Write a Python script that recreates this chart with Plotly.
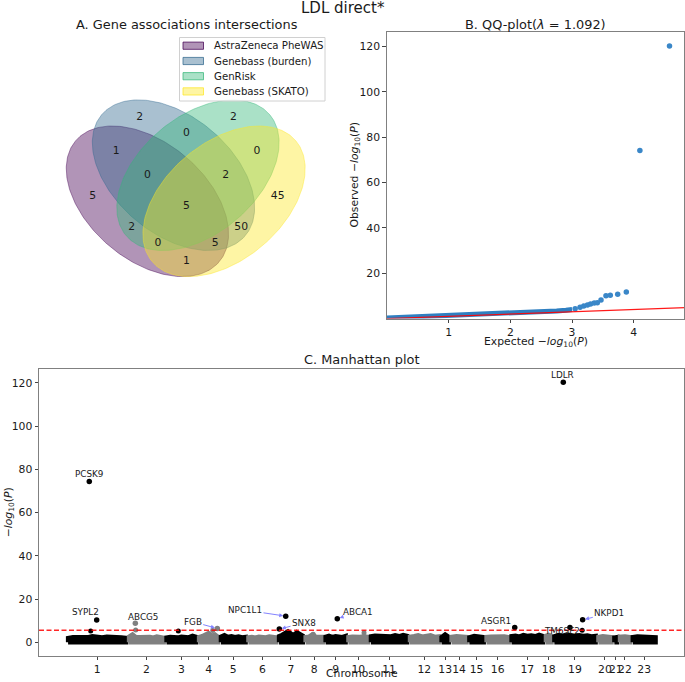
import numpy as np
import plotly.graph_objects as go

W, H = 685, 682
FONT = "DejaVu Sans"
TXT = "#1a1a1a"
SPINE = "#808080"


def px(x):
    return x / W


def py(y):
    return 1 - y / H


# ---------------- data ----------------
# A. Venn
venn_sets = ["AstraZeneca PheWAS", "Genebass (burden)", "GenRisk", "Genebass (SKATO)"]
venn_colors = ["68,1,84", "49,104,142", "53,183,121", "253,231,37"]
venn_regions = ["1000", "0100", "0010", "0001", "1100", "1010", "1001", "0110",
                "0101", "0011", "1110", "1101", "1011", "0111", "1111"]
venn_counts = [5, 2, 2, 45, 1, 2, 1, 0, 50, 0, 0, 5, 0, 2, 5]

# B. QQ plot
qq_band_expected = [0.0, 0.25, 0.5, 0.75, 1.0, 1.25, 1.5, 1.75, 2.0, 2.25, 2.5, 2.75, 2.9, 3.0]
qq_band_observed = [0.25, 0.5, 0.75, 0.95, 1.15, 1.4, 1.75, 2.0, 2.3, 2.6, 2.95, 3.4, 3.7, 4.0]
qq_tail_expected = [3.05, 3.13, 3.19, 3.25, 3.30, 3.36, 3.41, 3.47, 3.55, 3.62, 3.74, 3.88, 4.10, 4.58]
qq_tail_observed = [4.4, 5.0, 5.6, 6.0, 6.4, 6.9, 7.0, 8.2, 10.1, 10.3, 10.7, 11.7, 74.2, 120.3]
qq_ref_x = [0.0, 5.0]
qq_ref_y = [0.0, 5.0]
qq_lambda = 1.092

# C. Manhattan
chrom_names = [str(i) for i in range(1, 24)]
chrom_genes = [1950, 1200, 1040, 700, 880, 980, 850, 640, 730, 720, 1250, 1010,
               320, 570, 550, 800, 1100, 270, 1410, 510, 180, 410, 820]
chrom_env = [
    [2.0, 2.4, 2.2, 2.5, 2.3, 2.8, 2.4, 2.2, 2.6, 2.3, 2.5, 2.2, 2.0],
    [2.6, 3.6, 2.3, 2.4, 2.6, 2.3, 2.5, 2.2, 2.7, 2.4, 2.1],
    [2.2, 2.5, 2.3, 2.2, 2.6, 2.4, 2.3, 3.0, 2.5],
    [2.4, 2.8, 3.4, 4.2, 3.0, 3.6, 2.5],
    [2.6, 3.3, 2.5, 2.8, 2.4, 2.7, 2.3, 2.5],
    [2.3, 2.5, 2.2, 2.6, 2.4, 2.3, 2.7, 2.5, 2.3],
    [2.8, 3.4, 4.4, 5.0, 4.0, 3.2, 4.6, 3.6, 3.0],
    [2.4, 2.6, 3.6, 2.5, 2.3, 2.5],
    [2.5, 3.0, 2.4, 2.8, 2.6, 2.4, 2.9],
    [2.4, 2.6, 2.3, 2.5, 2.8, 2.4],
    [2.7, 3.0, 2.8, 3.1, 2.9, 2.7, 3.2, 2.8, 3.4, 2.9],
    [2.5, 2.8, 3.2, 2.6, 2.9, 3.3, 2.5, 2.7],
    [2.4, 3.6, 2.5],
    [2.5, 2.8, 2.6, 2.4],
    [2.3, 2.9, 2.6, 2.4],
    [2.4, 2.6, 2.8, 2.5, 2.7, 2.3],
    [2.8, 3.0, 2.6, 3.3, 2.9, 3.1, 2.8, 3.5, 2.9],
    [3.0, 3.4, 2.8],
    [2.8, 3.4, 3.0, 3.6, 3.2, 3.0, 3.3, 2.9, 3.1, 2.7, 2.9],
    [2.4, 2.8, 2.5, 2.3],
    [2.2, 2.4],
    [2.5, 2.7, 2.4],
    [2.4, 2.7, 2.5, 2.8, 2.6, 2.3],
]
other_chr = [1, 2, 3, 4, 7, 10, 19, 8]
other_pos = [768, 258, 422, 483, 610, 544, 935, 290]
other_logp = [5.2, 5.7, 5.2, 5.4, 4.1, 4.4, 5.6, 3.7]

hit_genes = ["PCSK9", "LDLR", "SYPL2", "ABCG5", "FGB", "NPC1L1", "SNX8", "ABCA1",
             "ASGR1", "TM6SF2", "NKPD1"]
hit_chr = [1, 19, 1, 2, 4, 7, 7, 9, 17, 19, 19]
hit_pos = [723, 330, 960, 246, 630, 259, 54, 419, 147, 544, 950]
hit_logp = [74.4, 120.3, 10.3, 8.8, 6.4, 12.1, 6.1, 10.9, 6.9, 6.9, 10.4]
threshold = 5.58

# ---------------- layout helpers (positions) ----------------
venn_layout = {
    "1000": (0.14, 0.42), "0100": (0.32, 0.72), "0010": (0.68, 0.72), "0001": (0.85, 0.42),
    "1100": (0.23, 0.59), "1010": (0.29, 0.30), "1001": (0.50, 0.17), "0110": (0.50, 0.66),
    "0101": (0.71, 0.30), "0011": (0.77, 0.59), "1110": (0.35, 0.50), "1101": (0.61, 0.24),
    "1011": (0.39, 0.24), "0111": (0.65, 0.50), "1111": (0.50, 0.38),
}
ell_centers = [(0.350, 0.400), (0.450, 0.500), (0.544, 0.500), (0.644, 0.400)]
ell_w, ell_h = 0.72, 0.45
ell_angles = [140.0, 140.0, 40.0, 40.0]
ALPHA = 0.42

# label placement (gene-index x, -log10P y) for manhattan annotations
label_place = [(723, 77.7), (15872, 123.4), (586, 13.8), (2432, 11.5), (4032, 9.5),
               (5706, 14.9), (7594, 9.0), (9331, 14.1), (13738, 9.8), (15840, 5.4),
               (17363, 13.4)]

fig = go.Figure()

# ---------------- A. Venn ----------------
t = np.linspace(0, 2 * np.pi, 240)
for (cx, cy), ang, col, name in zip(ell_centers, ell_angles, venn_colors, venn_sets):
    th = np.deg2rad(ang)
    a, b = ell_w / 2, ell_h / 2
    ex = cx + a * np.cos(t) * np.cos(th) - b * np.sin(t) * np.sin(th)
    ey = cy + a * np.cos(t) * np.sin(th) + b * np.sin(t) * np.cos(th)
    fig.add_trace(go.Scatter(
        x=ex, y=ey, mode="lines", fill="toself",
        fillcolor=f"rgba({col},{ALPHA})",
        line=dict(color=f"rgba({col},{ALPHA})", width=1),
        name=name, showlegend=False, hoverinfo="skip",
        xaxis="x", yaxis="y"))

fig.add_trace(go.Scatter(
    x=[venn_layout[r][0] for r in venn_regions],
    y=[venn_layout[r][1] for r in venn_regions],
    text=[str(c) for c in venn_counts], mode="text",
    textfont=dict(family=FONT, size=10.8, color=TXT),
    showlegend=False, hoverinfo="skip", xaxis="x", yaxis="y"))

# manual legend (matplotlib style)
shapes = []
annotations = []
shapes.append(dict(type="rect", xref="paper", yref="paper",
                   x0=px(179.5), x1=px(325), y0=py(101), y1=py(37.5),
                   line=dict(color="#d0d0d0", width=1), fillcolor="rgba(255,255,255,0.8)"))
row_y = [45.7, 61.0, 76.2, 91.4]
for ry, col, name in zip(row_y, venn_colors, venn_sets):
    shapes.append(dict(type="rect", xref="paper", yref="paper",
                       x0=px(183), x1=px(203.5), y0=py(ry + 3.6), y1=py(ry - 3.6),
                       line=dict(color=f"rgba({col},0.75)", width=1),
                       fillcolor=f"rgba({col},{ALPHA})"))
    annotations.append(dict(x=px(212), y=py(ry), xref="paper", yref="paper",
                            text=name, showarrow=False, xanchor="left", yanchor="middle",
                            font=dict(family=FONT, size=10.2, color=TXT)))

# ---------------- B. QQ ----------------
fig.add_trace(go.Scatter(
    x=qq_band_expected, y=qq_band_observed, mode="lines",
    line=dict(color="#2f7fc1", width=5), showlegend=False, hoverinfo="skip",
    xaxis="x2", yaxis="y2"))
fig.add_trace(go.Scatter(
    x=qq_tail_expected, y=qq_tail_observed, mode="markers",
    marker=dict(color="#3a87c8", size=5.5, line=dict(width=0)),
    showlegend=False, hoverinfo="skip", xaxis="x2", yaxis="y2"))
fig.add_trace(go.Scatter(
    x=qq_ref_x, y=qq_ref_y, mode="lines",
    line=dict(color="rgba(255,0,0,0.9)", width=1.2),
    showlegend=False, hoverinfo="skip", xaxis="x2", yaxis="y2"))

# ---------------- C. Manhattan ----------------
cum = np.concatenate([[0], np.cumsum(chrom_genes)])
chrom_col = ["#000000" if i % 2 == 0 else "#808080" for i in range(23)]
for i, env in enumerate(chrom_env):
    start, end = cum[i], cum[i + 1]
    xs = np.linspace(start + 45, end - 45, len(env))
    poly_x = [xs[0]] + list(xs) + [xs[-1], xs[0]]
    poly_y = [0] + list(env) + [0, 0]
    fig.add_trace(go.Scatter(
        x=poly_x, y=poly_y, mode="lines", fill="toself",
        fillcolor=chrom_col[i], line=dict(color=chrom_col[i], width=4.4),
        showlegend=False, hoverinfo="skip", xaxis="x3", yaxis="y3"))

ox = [cum[c - 1] + p for c, p in zip(other_chr, other_pos)]
fig.add_trace(go.Scatter(
    x=ox, y=other_logp, mode="markers",
    marker=dict(size=5, color=[chrom_col[c - 1] for c in other_chr]),
    showlegend=False, hoverinfo="skip", xaxis="x3", yaxis="y3"))

hx = [cum[c - 1] + p for c, p in zip(hit_chr, hit_pos)]
fig.add_trace(go.Scatter(
    x=hx, y=hit_logp, mode="markers",
    marker=dict(size=5.5, color=[chrom_col[c - 1] for c in hit_chr]),
    showlegend=False, hoverinfo="skip", xaxis="x3", yaxis="y3"))

for g, x0, y0, (lx, ly) in zip(hit_genes, hx, hit_logp, label_place):
    annotations.append(dict(
        x=x0, y=y0, xref="x3", yref="y3", ax=lx, ay=ly, axref="x3", ayref="y3",
        text=g, showarrow=True, arrowhead=2, arrowsize=0.8, arrowwidth=1,
        arrowcolor="rgba(80,80,255,0.7)", standoff=2.5, startstandoff=0,
        font=dict(family=FONT, size=8.8, color=TXT)))

shapes.append(dict(type="line", xref="x3 domain", yref="y3", x0=0, x1=1,
                   y0=threshold, y1=threshold,
                   line=dict(color="rgba(255,0,0,0.85)", width=1.3, dash="5px,2.5px")))

chrom_centers = [(cum[i] + cum[i + 1]) / 2 for i in range(23)]

# ---------------- titles ----------------
def ann(text, x, y, size, angle=0, yanchor="middle"):
    annotations.append(dict(x=px(x), y=py(y), xref="paper", yref="paper", text=text,
                            showarrow=False, xanchor="center", yanchor=yanchor,
                            textangle=angle, font=dict(family=FONT, size=size, color=TXT)))

ann("LDL direct*", 342.5, 8.5, 15)
ann("A. Gene associations intersections", 186.5, 24.7, 12.9)
ann("B. QQ-plot(<i>λ</i> = 1.092)", 535.5, 25, 12.9)
ann("C. Manhattan plot", 361.7, 359.5, 12.9)
ann("Expected −<i>log</i><sub>10</sub>(<i>P</i>)", 535.5, 341.5, 10.8)
ann("Observed −<i>log</i><sub>10</sub>(<i>P</i>)", 354, 175.5, 10.8, -90)
ann("Chromosome", 361.7, 682, 10.8, yanchor="bottom")
ann("−<i>log</i><sub>10</sub>(<i>P</i>)", 9, 512.3, 10.8, -90)

axis_common = dict(showline=True, mirror=True, linecolor=SPINE, linewidth=1,
                   ticks="outside", ticklen=3.5, tickwidth=0.8, tickcolor="#444",
                   showgrid=False, zeroline=False, automargin=False, tickangle=0,
                   tickfont=dict(family=FONT, size=10.8, color=TXT))

fig.update_layout(
    width=W, height=H, margin=dict(l=0, r=0, t=0, b=0),
    paper_bgcolor="white", plot_bgcolor="white", showlegend=False,
    xaxis=dict(domain=[px(56.2), px(316.8)], range=[0, 1], visible=False, fixedrange=True),
    yaxis=dict(domain=[py(305.7), py(44.7)], range=[0, 1], visible=False, fixedrange=True),
    xaxis2=dict(domain=[px(386.7), px(684.3)], range=[-0.005, 4.82],
                tickvals=[1, 2, 3, 4], anchor="y2", **axis_common),
    yaxis2=dict(domain=[py(318.6), py(32.3)], range=[0, 126.3],
                tickvals=[20, 40, 60, 80, 100, 120], anchor="x2", **axis_common),
    xaxis3=dict(domain=[px(39), px(684.3)], range=[-886, 19763],
                tickvals=chrom_centers, ticktext=chrom_names, anchor="y3", **axis_common),
    yaxis3=dict(domain=[py(655.7), py(369)], range=[-6.2, 126.4],
                tickvals=[0, 20, 40, 60, 80, 100, 120], anchor="x3", **axis_common),
    shapes=shapes, annotations=annotations,
)

fig.write_html(
    "out.html",
    config={"displayModeBar": False},
    post_script="document.body.style.margin='0';document.body.style.overflow='hidden';",
)
